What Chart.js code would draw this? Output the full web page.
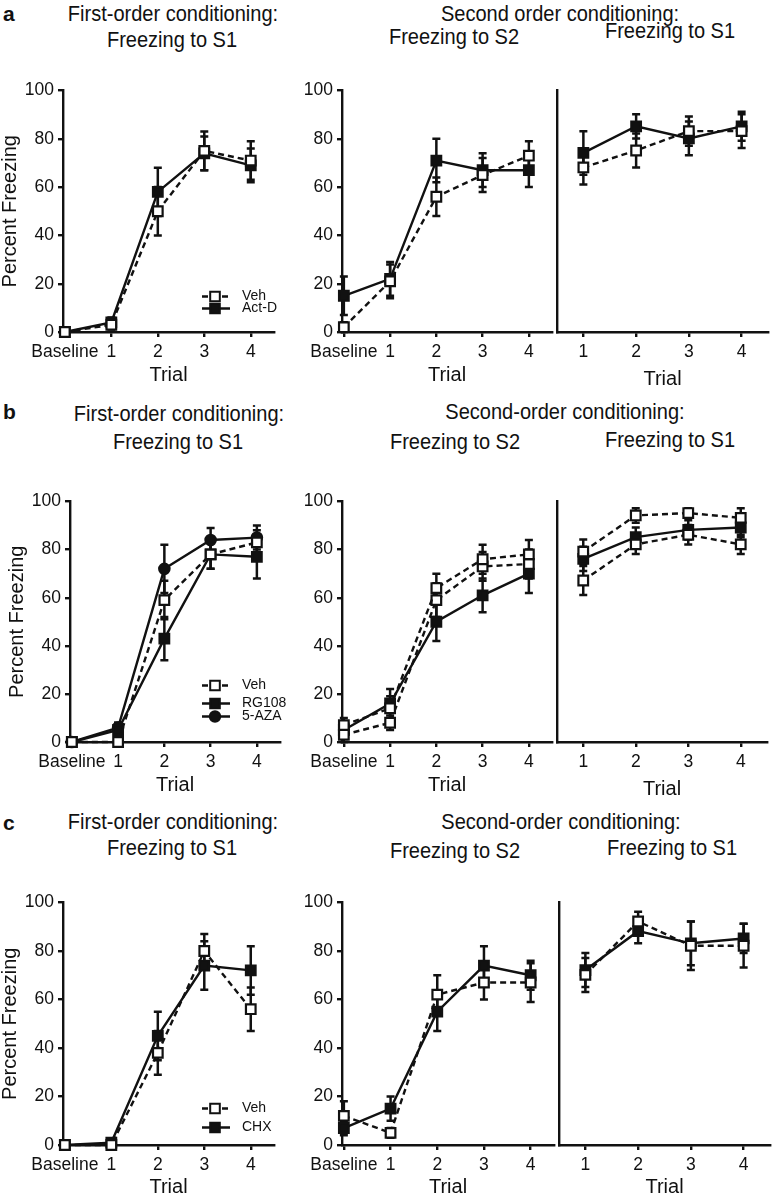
<!DOCTYPE html>
<html>
<head>
<meta charset="utf-8">
<script src="https://cdn.jsdelivr.net/npm/chart.js@4.4.0/dist/chart.umd.min.js"></script>
<style>
body { margin: 0; background: #fff; }
#fig { position: relative; width: 777px; height: 1199px; overflow: hidden; font-family: 'Liberation Sans', Arial, sans-serif; color: #111; }
#fig canvas { position: absolute; }
.t { position: absolute; white-space: nowrap; font-size: 22px; line-height: 22px; transform: translateX(-50%) scaleX(0.91); }
.lbl { position: absolute; font-size: 21px; line-height: 22px; font-weight: bold; }
</style>
</head>
<body>
<div id="fig">
  <div class="lbl" style="left:3px;top:3px">a</div>
  <div class="t" style="left:173px;top:3px">First-order conditioning:</div>
  <div class="t" style="left:172px;top:29px">Freezing to S1</div>
  <div class="t" style="left:560px;top:3px">Second order conditioning:</div>
  <div class="t" style="left:454px;top:26px">Freezing to S2</div>
  <div class="t" style="left:670px;top:20px">Freezing to S1</div>

  <div class="lbl" style="left:3px;top:401px">b</div>
  <div class="t" style="left:179px;top:403px">First-order conditioning:</div>
  <div class="t" style="left:178px;top:431px">Freezing to S1</div>
  <div class="t" style="left:565px;top:401px">Second-order conditioning:</div>
  <div class="t" style="left:455px;top:431px">Freezing to S2</div>
  <div class="t" style="left:670px;top:429px">Freezing to S1</div>

  <div class="lbl" style="left:3px;top:812px">c</div>
  <div class="t" style="left:173px;top:811px">First-order conditioning:</div>
  <div class="t" style="left:172px;top:837px">Freezing to S1</div>
  <div class="t" style="left:561px;top:811px">Second-order conditioning:</div>
  <div class="t" style="left:455px;top:840px">Freezing to S2</div>
  <div class="t" style="left:672px;top:837px">Freezing to S1</div>
</div>
<script>
// x categories
const trialCats = ['Baseline', '1', '2', '3', '4'];
const trialPos = [0, 1, 2, 3, 4];
const s1Cats = ['1', '2', '3', '4'];
const s1Pos = [1, 2, 3, 4];
const yTicks = [0, 20, 40, 60, 80, 100];

// a: Act-D
const aFirstVeh = [0, 3, 50, 75, 71];
const aFirstVehErr = [0, 2, 10, 8, 8];
const aFirstActD = [0, 4, 58, 74, 69];
const aFirstActDErr = [0, 2, 10, 7, 7];
const aS2Veh = [2, 21, 56, 65, 73];
const aS2VehErr = [2, 7, 8, 7, 6];
const aS2ActD = [15, 22, 71, 67, 67];
const aS2ActDErr = [8, 7, 9, 7, 7];
const aS1Veh = [68, 75, 83, 83];
const aS1VehErr = [7, 7, 6, 7];
const aS1ActD = [74, 85, 80, 85];
const aS1ActDErr = [9, 5, 7, 6];

// b: RG108 / 5-AZA
const bFirstVeh = [0, 0, 59, 78, 83];
const bFirstVehErr = [0, 1, 8, 6, 5];
const bFirstRG108 = [0, 5, 43, 78, 77];
const bFirstRG108Err = [0, 3, 9, 6, 9];
const bFirstAza = [0, 6, 72, 84, 85];
const bFirstAzaErr = [0, 2, 10, 5, 5];
const bS2DashA = [7, 14, 64, 76, 78];
const bS2DashAErr = [3, 5, 6, 6, 6];
const bS2DashB = [3, 8, 59, 73, 74];
const bS2DashBErr = [3, 3, 7, 6, 6];
const bS2RG108 = [5, 16, 50, 61, 70];
const bS2RG108Err = [3, 6, 8, 7, 8];
const bS1DashA = [79, 94, 95, 93];
const bS1DashAErr = [5, 3, 2, 4];
const bS1DashB = [67, 82, 86, 82];
const bS1DashBErr = [6, 4, 4, 4];
const bS1RG108 = [76, 85, 88, 89];
const bS1RG108Err = [5, 4, 4, 4];

// c: CHX
const cFirstVeh = [0, 0, 38, 80, 56];
const cFirstVehErr = [0, 1, 9, 7, 9];
const cFirstChx = [0, 1, 45, 74, 72];
const cFirstChxErr = [0, 1, 10, 10, 10];
const cS2Veh = [12, 5, 62, 67, 67];
const cS2VehErr = [6, 2, 8, 7, 8];
const cS2Chx = [7, 15, 55, 74, 70];
const cS2ChxErr = [3, 5, 8, 8, 6];
const cS1Veh = [70, 92, 82, 82];
const cS1VehErr = [7, 4, 10, 9];
const cS1Chx = [72, 88, 83, 85];
const cS1ChxErr = [7, 5, 9, 6];

const INK = '#111';
Chart.defaults.font.family = "'Liberation Sans', Arial, sans-serif";
Chart.defaults.color = INK;

const errorBars = {
  id: 'errorBars',
  beforeDatasetsDraw(chart) {
    const { ctx, scales: { x, y } } = chart;
    ctx.save();
    ctx.strokeStyle = INK;
    ctx.lineWidth = 2.5;
    chart.data.datasets.forEach(ds => {
      ds.data.forEach((pt, i) => {
        const e = ds.errors[i];
        if (!e) return;
        const px = x.getPixelForValue(pt.x);
        const hi = y.getPixelForValue(pt.y + e);
        const lo = y.getPixelForValue(Math.max(pt.y - e, 0));
        ctx.beginPath();
        ctx.moveTo(px, hi); ctx.lineTo(px, lo);
        ctx.moveTo(px - 4, hi); ctx.lineTo(px + 4, hi);
        ctx.moveTo(px - 4, lo); ctx.lineTo(px + 4, lo);
        ctx.stroke();
      });
    });
    ctx.restore();
  }
};

function marker(ctx, style, r, x, y) {
  ctx.beginPath();
  if (style === 'circle') {
    ctx.arc(x, y, r, 0, Math.PI * 2);
  } else {
    const s = r * Math.SQRT1_2;
    ctx.rect(x - s, y - s, 2 * s, 2 * s);
  }
  ctx.fill();
  ctx.stroke();
}

const miniLegend = {
  id: 'miniLegend',
  afterDraw(chart, args, opts) {
    if (!opts || !opts.ys) return;
    const { ctx, chartArea } = chart;
    ctx.save();
    ctx.font = "14px 'Liberation Sans', Arial, sans-serif";
    ctx.textBaseline = 'middle';
    chart.data.datasets.forEach((ds, i) => {
      const x0 = chartArea.left + opts.x;
      const y0 = chartArea.top + opts.ys[i];
      ctx.strokeStyle = INK;
      ctx.lineWidth = 2.5;
      ctx.setLineDash(ds.borderDash || []);
      ctx.beginPath(); ctx.moveTo(x0, y0); ctx.lineTo(x0 + 28, y0); ctx.stroke();
      ctx.setLineDash([]);
      ctx.lineWidth = 2;
      ctx.fillStyle = ds.pointBackgroundColor;
      marker(ctx, ds.pointStyle, ds.pointRadius, x0 + 13, y0);
      ctx.fillStyle = INK;
      ctx.fillText(ds.label, x0 + 40, y0);
    });
    ctx.restore();
  }
};

function veh(label, values, errors) {
  return { label, values, errors, borderDash: [6, 4], pointStyle: 'rect', pointRadius: 6.8, pointBackgroundColor: '#fff' };
}
function square(label, values, errors) {
  return { label, values, errors, borderDash: [], pointStyle: 'rect', pointRadius: 6.8, pointBackgroundColor: INK };
}
function circle(label, values, errors) {
  return { label, values, errors, borderDash: [], pointStyle: 'circle', pointRadius: 5.2, pointBackgroundColor: INK };
}

const fig = document.getElementById('fig');

function makePanel(p) {
  const padTop = 14, padRight = 4;
  const cv = document.createElement('canvas');
  cv.width = Math.round(p.right - p.left + padRight);
  cv.height = Math.round(p.bottom - p.top + padTop + p.xAxisH);
  cv.style.left = p.left + 'px';
  cv.style.top = (p.top - padTop) + 'px';
  fig.appendChild(cv);

  new Chart(cv, {
    type: 'line',
    data: {
      datasets: p.series.map(s => ({
        label: s.label,
        data: p.pos.map((x, i) => ({ x, y: s.values[i] })),
        errors: s.errors,
        borderColor: INK,
        borderWidth: 2.4,
        borderDash: s.borderDash,
        tension: 0,
        pointStyle: s.pointStyle,
        pointRadius: s.pointRadius,
        pointHoverRadius: s.pointRadius,
        pointBackgroundColor: s.pointBackgroundColor,
        pointBorderColor: INK,
        pointBorderWidth: 2.2,
        clip: false
      }))
    },
    options: {
      responsive: false,
      animation: false,
      devicePixelRatio: 1,
      events: [],
      layout: { padding: { top: padTop, right: padRight, left: 0, bottom: 0 } },
      plugins: {
        legend: { display: false },
        tooltip: { enabled: false },
        miniLegend: p.legend || false
      },
      scales: {
        x: {
          type: 'linear',
          min: p.xMin,
          max: p.xMax,
          afterBuildTicks: s => { s.ticks = p.pos.map(v => ({ value: v })); },
          afterFit: s => { s.height = p.xAxisH; },
          grid: { drawOnChartArea: false, drawTicks: true, tickLength: 5, color: INK, lineWidth: 2.4 },
          border: { display: true, color: INK, width: 2.4 },
          ticks: {
            color: INK, font: { size: 17.5 }, padding: 5, maxRotation: 0, autoSkip: false,
            callback: v => p.cats[p.pos.indexOf(v)]
          },
          title: { display: true, text: 'Trial', color: INK, font: { size: 20 }, padding: 0 }
        },
        y: {
          min: 0,
          max: 100,
          afterBuildTicks: s => { s.ticks = yTicks.map(v => ({ value: v })); },
          afterFit: s => { s.width = p.axisX - p.left; },
          grid: { drawOnChartArea: false, drawTicks: p.yLabels, tickLength: 5, color: INK, lineWidth: 2.4 },
          border: { display: true, color: INK, width: 2.4 },
          ticks: { display: p.yLabels, color: INK, font: { size: 17.5 }, padding: 4, callback: v => String(v) },
          title: { display: !!p.yTitle, text: 'Percent Freezing', color: INK, font: { size: 20, lineHeight: 1 }, padding: 0 }
        }
      }
    },
    plugins: [errorBars, miniLegend]
  });
}

// row a
makePanel({ left: 0, axisX: 63, right: 279, top: 90, bottom: 332, xMin: -0.04, xMax: 4.5, xAxisH: 55,
  pos: trialPos, cats: trialCats, yLabels: true, yTitle: true,
  series: [veh('Veh', aFirstVeh, aFirstVehErr), square('Act-D', aFirstActD, aFirstActDErr)],
  legend: { x: 139, ys: [206, 218] } });
makePanel({ left: 279, axisX: 342, right: 557, top: 90, bottom: 332, xMin: -0.04, xMax: 4.5, xAxisH: 55,
  pos: trialPos, cats: trialCats, yLabels: true,
  series: [veh('Veh', aS2Veh, aS2VehErr), square('Act-D', aS2ActD, aS2ActDErr)] });
makePanel({ left: 547, axisX: 557, right: 773, top: 90, bottom: 332, xMin: 0.5, xMax: 4.5, xAxisH: 59,
  pos: s1Pos, cats: s1Cats, yLabels: false,
  series: [veh('Veh', aS1Veh, aS1VehErr), square('Act-D', aS1ActD, aS1ActDErr)] });

// row b
makePanel({ left: 7, axisX: 70, right: 285, top: 501, bottom: 742, xMin: -0.04, xMax: 4.5, xAxisH: 55,
  pos: trialPos, cats: trialCats, yLabels: true, yTitle: true,
  series: [veh('Veh', bFirstVeh, bFirstVehErr), square('RG108', bFirstRG108, bFirstRG108Err), circle('5-AZA', bFirstAza, bFirstAzaErr)],
  legend: { x: 132, ys: [184, 202, 215] } });
makePanel({ left: 279, axisX: 342, right: 557, top: 501, bottom: 742, xMin: -0.04, xMax: 4.5, xAxisH: 55,
  pos: trialPos, cats: trialCats, yLabels: true,
  series: [veh('Veh', bS2DashA, bS2DashAErr), veh('Veh', bS2DashB, bS2DashBErr), square('RG108', bS2RG108, bS2RG108Err)] });
makePanel({ left: 547, axisX: 557, right: 772, top: 501, bottom: 742, xMin: 0.5, xMax: 4.5, xAxisH: 59,
  pos: s1Pos, cats: s1Cats, yLabels: false,
  series: [veh('Veh', bS1DashA, bS1DashAErr), veh('Veh', bS1DashB, bS1DashBErr), square('RG108', bS1RG108, bS1RG108Err)] });

// row c
makePanel({ left: 0, axisX: 63, right: 279, top: 902, bottom: 1145, xMin: -0.04, xMax: 4.5, xAxisH: 54,
  pos: trialPos, cats: trialCats, yLabels: true, yTitle: true,
  series: [veh('Veh', cFirstVeh, cFirstVehErr), square('CHX', cFirstChx, cFirstChxErr)],
  legend: { x: 139, ys: [206, 225] } });
makePanel({ left: 279, axisX: 342, right: 559, top: 902, bottom: 1145, xMin: -0.04, xMax: 4.5, xAxisH: 54,
  pos: trialPos, cats: trialCats, yLabels: true,
  series: [veh('Veh', cS2Veh, cS2VehErr), square('CHX', cS2Chx, cS2ChxErr)] });
makePanel({ left: 549, axisX: 559, right: 775, top: 902, bottom: 1145, xMin: 0.5, xMax: 4.5, xAxisH: 54,
  pos: s1Pos, cats: s1Cats, yLabels: false,
  series: [veh('Veh', cS1Veh, cS1VehErr), square('CHX', cS1Chx, cS1ChxErr)] });
</script>
</body>
</html>
